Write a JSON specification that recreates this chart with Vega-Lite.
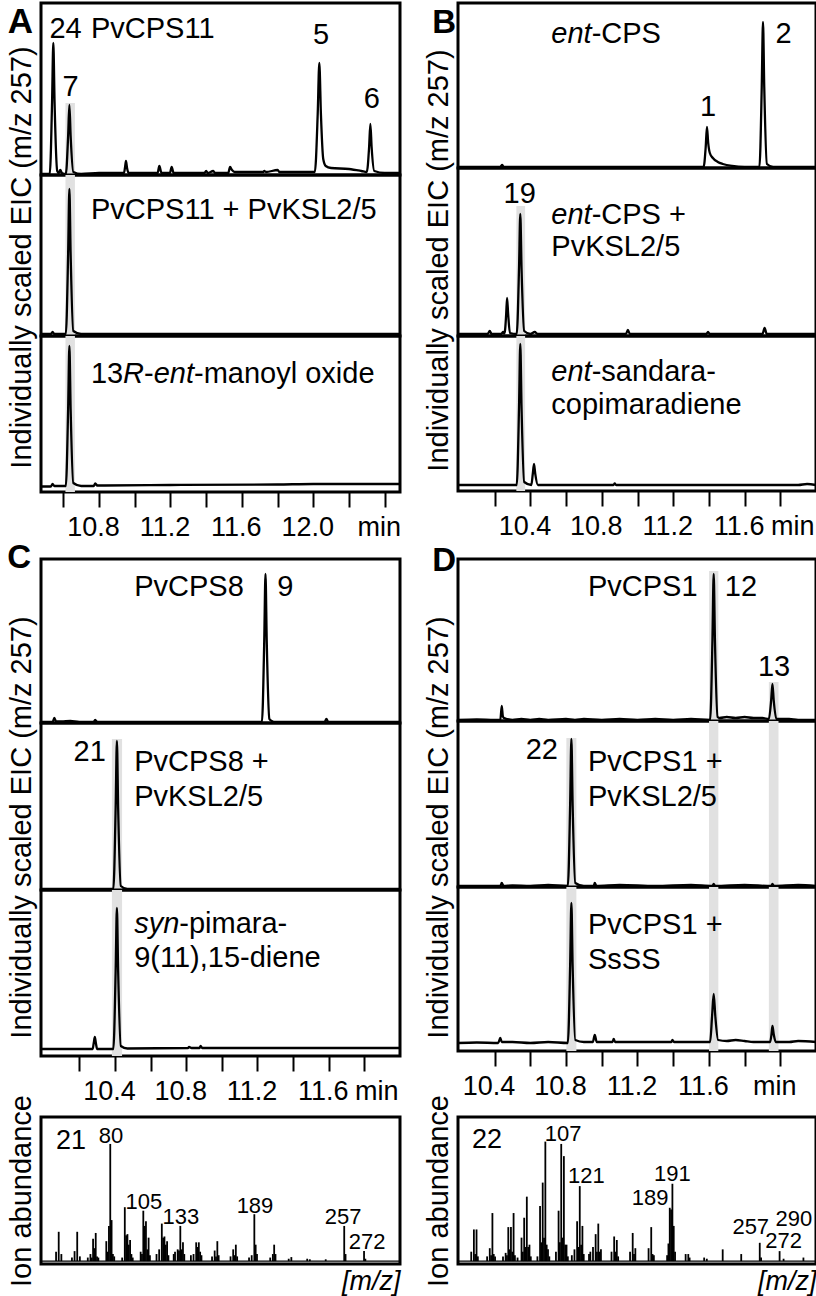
{
"$schema": "https://vega.github.io/schema/vega-lite/v6.json",
"background": "white",
"padding": {"left": 5, "top": 1, "right": 0, "bottom": 0},
"config": {
  "font": "Liberation Sans",
  "view": {"stroke": "black", "strokeWidth": 3},
  "axis": {"labelColor": "black", "titleColor": "black", "titleFontWeight": "normal", "grid": false},
  "title": {"color": "black"},
  "line": {"strokeWidth": 2.3}
},
"datasets": {
"A1": [{"t":10.475,"h":0},{"t":10.52,"h":0},{"t":10.524,"h":0},{"t":10.537,"h":72},{"t":10.544,"h":131},{"t":10.551,"h":72},{"t":10.566,"h":3},{"t":10.575,"h":1},{"t":10.583,"h":4},{"t":10.592,"h":1},{"t":10.614,"h":0},{"t":10.627,"h":38},{"t":10.634,"h":69},{"t":10.641,"h":38},{"t":10.656,"h":2},{"t":10.70,"h":0},{"t":10.80,"h":1},{"t":10.90,"h":1},{"t":10.940,"h":1},{"t":10.946,"h":7},{"t":10.951,"h":13},{"t":10.957,"h":6},{"t":10.966,"h":1},{"t":11.05,"h":1},{"t":11.128,"h":1},{"t":11.138,"h":8},{"t":11.150,"h":1},{"t":11.197,"h":1},{"t":11.207,"h":7},{"t":11.218,"h":1},{"t":11.30,"h":1},{"t":11.39,"h":1},{"t":11.40,"h":3},{"t":11.41,"h":1},{"t":11.44,"h":3},{"t":11.45,"h":1},{"t":11.524,"h":1},{"t":11.534,"h":7},{"t":11.545,"h":4},{"t":11.56,"h":2},{"t":11.65,"h":2},{"t":11.72,"h":2},{"t":11.726,"h":3},{"t":11.735,"h":2},{"t":11.801,"h":4},{"t":11.81,"h":2},{"t":11.90,"h":2},{"t":12.00,"h":2},{"t":12.009,"h":2},{"t":12.025,"h":60},{"t":12.034,"h":111},{"t":12.043,"h":60},{"t":12.056,"h":15},{"t":12.07,"h":8},{"t":12.10,"h":6},{"t":12.20,"h":5},{"t":12.27,"h":3},{"t":12.300,"h":2},{"t":12.313,"h":27},{"t":12.320,"h":50},{"t":12.327,"h":27},{"t":12.342,"h":3},{"t":12.40,"h":1},{"t":12.486,"h":1}],
"A2": [{"t":10.475,"h":0},{"t":10.53,"h":0},{"t":10.540,"h":2},{"t":10.55,"h":0},{"t":10.614,"h":0},{"t":10.627,"h":80},{"t":10.634,"h":145},{"t":10.641,"h":80},{"t":10.656,"h":3},{"t":10.70,"h":0},{"t":12.486,"h":0}],
"A3": [{"t":10.475,"h":-0.5},{"t":10.53,"h":-0.5},{"t":10.540,"h":2},{"t":10.55,"h":0},{"t":10.614,"h":0},{"t":10.627,"h":77},{"t":10.634,"h":140},{"t":10.641,"h":77},{"t":10.656,"h":3},{"t":10.70,"h":0},{"t":10.77,"h":0},{"t":10.779,"h":2.5},{"t":10.79,"h":0.5},{"t":11.2,"h":1},{"t":11.8,"h":1.5},{"t":12.0,"h":2},{"t":12.486,"h":2}],
"B1": [{"t":9.994,"h":0},{"t":10.23,"h":0},{"t":10.242,"h":2},{"t":10.25,"h":0},{"t":11.0,"h":0},{"t":11.30,"h":0},{"t":11.370,"h":0},{"t":11.382,"h":20},{"t":11.389,"h":40},{"t":11.396,"h":24},{"t":11.405,"h":14},{"t":11.422,"h":9},{"t":11.45,"h":5},{"t":11.478,"h":3},{"t":11.53,"h":1},{"t":11.60,"h":0},{"t":11.683,"h":0},{"t":11.696,"h":80},{"t":11.703,"h":145},{"t":11.710,"h":80},{"t":11.725,"h":3},{"t":11.76,"h":0},{"t":12.0,"h":0}],
"B2": [{"t":9.994,"h":0},{"t":10.16,"h":0},{"t":10.172,"h":3},{"t":10.182,"h":0},{"t":10.236,"h":0},{"t":10.246,"h":2},{"t":10.252,"h":0.5},{"t":10.257,"h":3},{"t":10.264,"h":20},{"t":10.269,"h":36},{"t":10.275,"h":20},{"t":10.285,"h":1},{"t":10.323,"h":0},{"t":10.336,"h":66},{"t":10.343,"h":120},{"t":10.350,"h":66},{"t":10.365,"h":3},{"t":10.40,"h":0},{"t":10.424,"h":2},{"t":10.44,"h":0},{"t":10.935,"h":0},{"t":10.946,"h":4},{"t":10.957,"h":0},{"t":11.385,"h":0},{"t":11.395,"h":2},{"t":11.405,"h":0},{"t":11.700,"h":0},{"t":11.712,"h":6},{"t":11.724,"h":0},{"t":12.0,"h":0}],
"B3": [{"t":9.994,"h":0},{"t":10.323,"h":0},{"t":10.336,"h":78},{"t":10.343,"h":141},{"t":10.350,"h":78},{"t":10.365,"h":3},{"t":10.405,"h":0},{"t":10.413,"h":11},{"t":10.420,"h":21},{"t":10.427,"h":11},{"t":10.442,"h":0},{"t":10.865,"h":0},{"t":10.872,"h":1.5},{"t":10.88,"h":0},{"t":11.9,"h":0},{"t":11.95,"h":1},{"t":12.0,"h":0}],
"C1": [{"t":9.985,"h":0},{"t":10.05,"h":0},{"t":10.060,"h":4},{"t":10.07,"h":0.5},{"t":10.10,"h":0.5},{"t":10.15,"h":1},{"t":10.20,"h":0},{"t":10.280,"h":0},{"t":10.289,"h":2},{"t":10.30,"h":0},{"t":11.225,"h":0},{"t":11.238,"h":81},{"t":11.245,"h":148},{"t":11.252,"h":81},{"t":11.267,"h":3},{"t":11.28,"h":1},{"t":11.30,"h":0},{"t":11.577,"h":0},{"t":11.587,"h":3},{"t":11.597,"h":0},{"t":12.0,"h":0}],
"C2": [{"t":9.985,"h":0},{"t":10.391,"h":0},{"t":10.404,"h":81},{"t":10.411,"h":148},{"t":10.418,"h":81},{"t":10.433,"h":3},{"t":10.47,"h":0},{"t":12.0,"h":0}],
"C3": [{"t":9.985,"h":0},{"t":10.275,"h":0},{"t":10.281,"h":6},{"t":10.287,"h":12},{"t":10.293,"h":6},{"t":10.30,"h":0},{"t":10.391,"h":0},{"t":10.404,"h":78},{"t":10.411,"h":141},{"t":10.418,"h":78},{"t":10.433,"h":3},{"t":10.47,"h":0.5},{"t":10.81,"h":1},{"t":10.816,"h":2},{"t":10.83,"h":1},{"t":10.875,"h":1},{"t":10.881,"h":3},{"t":10.89,"h":1},{"t":11.5,"h":1},{"t":12.0,"h":1}],
"D1": [{"t":10.195,"h":0},{"t":10.30,"h":0.5},{"t":10.40,"h":0},{"t":10.432,"h":0},{"t":10.440,"h":14},{"t":10.446,"h":4},{"t":10.452,"h":2},{"t":10.47,"h":1},{"t":10.50,"h":0},{"t":10.55,"h":1},{"t":10.60,"h":0},{"t":10.65,"h":1},{"t":10.70,"h":0},{"t":10.80,"h":1},{"t":10.85,"h":0},{"t":10.90,"h":1},{"t":11.0,"h":0},{"t":11.1,"h":1},{"t":11.2,"h":0},{"t":11.3,"h":1},{"t":11.4,"h":0},{"t":11.5,"h":1},{"t":11.607,"h":0},{"t":11.620,"h":80},{"t":11.627,"h":146},{"t":11.634,"h":80},{"t":11.649,"h":3},{"t":11.66,"h":2},{"t":11.70,"h":3},{"t":11.75,"h":2},{"t":11.80,"h":3},{"t":11.85,"h":2},{"t":11.90,"h":2},{"t":11.936,"h":1},{"t":11.949,"h":20},{"t":11.956,"h":36},{"t":11.963,"h":20},{"t":11.978,"h":1},{"t":12.05,"h":1},{"t":12.10,"h":0},{"t":12.2,"h":0}],
"D2": [{"t":10.195,"h":0},{"t":10.432,"h":0},{"t":10.440,"h":3},{"t":10.45,"h":0},{"t":10.5,"h":0.5},{"t":10.6,"h":0},{"t":10.7,"h":1},{"t":10.810,"h":0},{"t":10.823,"h":81},{"t":10.830,"h":147},{"t":10.837,"h":81},{"t":10.852,"h":3},{"t":10.90,"h":0},{"t":10.955,"h":0},{"t":10.961,"h":3},{"t":10.97,"h":0},{"t":11.1,"h":1},{"t":11.3,"h":0},{"t":11.5,"h":1},{"t":11.62,"h":0},{"t":11.627,"h":2},{"t":11.635,"h":0},{"t":11.8,"h":1},{"t":11.95,"h":0},{"t":11.956,"h":2},{"t":11.965,"h":0},{"t":12.1,"h":1},{"t":12.2,"h":0}],
"D3": [{"t":10.195,"h":0},{"t":10.30,"h":0.5},{"t":10.42,"h":0},{"t":10.432,"h":5},{"t":10.44,"h":1},{"t":10.5,"h":1},{"t":10.6,"h":0},{"t":10.7,"h":1},{"t":10.810,"h":0},{"t":10.823,"h":77},{"t":10.830,"h":140},{"t":10.837,"h":77},{"t":10.852,"h":3},{"t":10.90,"h":1},{"t":10.950,"h":1},{"t":10.961,"h":8},{"t":10.972,"h":1},{"t":11.06,"h":1},{"t":11.067,"h":4},{"t":11.075,"h":1},{"t":11.2,"h":1},{"t":11.39,"h":1},{"t":11.396,"h":3},{"t":11.405,"h":1},{"t":11.5,"h":1},{"t":11.607,"h":1},{"t":11.618,"h":27},{"t":11.627,"h":49},{"t":11.636,"h":27},{"t":11.652,"h":3},{"t":11.70,"h":2},{"t":11.75,"h":3},{"t":11.80,"h":2},{"t":11.85,"h":1},{"t":11.943,"h":1},{"t":11.951,"h":9},{"t":11.956,"h":17},{"t":11.963,"h":9},{"t":11.975,"h":1},{"t":12.05,"h":1},{"t":12.1,"h":2},{"t":12.2,"h":1}],
"bands": [
{"c":"A1","t":10.612,"t2":10.665,"h":-1,"h2":71},
{"c":"A2","t":10.612,"t2":10.665,"h":-2,"h2":159},
{"c":"A3","t":10.612,"t2":10.665,"h":-6,"h2":150},
{"c":"B2","t":10.321,"t2":10.370,"h":-2,"h2":128},
{"c":"B3","t":10.321,"t2":10.370,"h":-6,"h2":149},
{"c":"C2","t":10.383,"t2":10.440,"h":-1,"h2":150},
{"c":"C3","t":10.383,"t2":10.440,"h":-7,"h2":159},
{"c":"D1","t":11.601,"t2":11.653,"h":-1,"h2":149},
{"c":"D1","t":11.936,"t2":11.990,"h":-1,"h2":38},
{"c":"D2","t":11.601,"t2":11.653,"h":-1,"h2":165},
{"c":"D2","t":11.936,"t2":11.990,"h":-1,"h2":165},
{"c":"D2","t":10.802,"t2":10.858,"h":-1,"h2":148},
{"c":"D3","t":11.601,"t2":11.653,"h":-8,"h2":156},
{"c":"D3","t":11.936,"t2":11.990,"h":-8,"h2":156},
{"c":"D3","t":10.802,"t2":10.858,"h":-8,"h2":156}
],
"letters": [
{"c":"A1","t":10.430,"h":141,"s":"A","fs":35},
{"c":"B1","t":9.983,"h":134,"s":"B","fs":33},
{"c":"C1","t":9.929,"h":154,"s":"C","fs":33},
{"c":"D1","t":10.184,"h":149,"s":"D","fs":33}
],
"labels": [
{"c":"A1","t":10.522,"h":136,"s":"24","al":"left","st":"normal"},
{"c":"A1","t":10.755,"h":136,"s":"PvCPS11","al":"left","st":"normal"},
{"c":"A1","t":10.640,"h":78,"s":"7","al":"center","st":"normal"},
{"c":"A1","t":12.044,"h":130,"s":"5","al":"center","st":"normal"},
{"c":"A1","t":12.328,"h":66,"s":"6","al":"center","st":"normal"},
{"c":"A2","t":10.755,"h":115,"s":"PvCPS11 + PvKSL2/5","al":"left","st":"normal"},
{"c":"A3","t":10.755,"h":103,"s":"13","al":"left","st":"normal"},
{"c":"A3","t":10.935,"h":103,"s":"R","al":"left","st":"italic"},
{"c":"A3","t":11.052,"h":103,"s":"-","al":"left","st":"normal"},
{"c":"A3","t":11.106,"h":103,"s":"ent","al":"left","st":"italic"},
{"c":"A3","t":11.332,"h":103,"s":"-manoyl oxide","al":"left","st":"normal"},
{"c":"B1","t":10.517,"h":124,"s":"ent","al":"left","st":"italic"},
{"c":"B1","t":10.743,"h":124,"s":"-CPS","al":"left","st":"normal"},
{"c":"B1","t":11.395,"h":51,"s":"1","al":"center","st":"normal"},
{"c":"B1","t":11.818,"h":124,"s":"2","al":"center","st":"normal"},
{"c":"B2","t":10.340,"h":131,"s":"19","al":"center","st":"normal"},
{"c":"B2","t":10.517,"h":110,"s":"ent","al":"left","st":"italic"},
{"c":"B2","t":10.743,"h":110,"s":"-CPS +","al":"left","st":"normal"},
{"c":"B2","t":10.517,"h":78,"s":"PvKSL2/5","al":"left","st":"normal"},
{"c":"B3","t":10.517,"h":104,"s":"ent","al":"left","st":"italic"},
{"c":"B3","t":10.743,"h":104,"s":"-sandara-","al":"left","st":"normal"},
{"c":"B3","t":10.517,"h":71,"s":"copimaradiene","al":"left","st":"normal"},
{"c":"C1","t":10.508,"h":126,"s":"PvCPS8","al":"left","st":"normal"},
{"c":"C1","t":11.311,"h":126,"s":"9","al":"left","st":"normal"},
{"c":"C2","t":10.349,"h":128,"s":"21","al":"right","st":"normal"},
{"c":"C2","t":10.508,"h":118,"s":"PvCPS8 +","al":"left","st":"normal"},
{"c":"C2","t":10.508,"h":83,"s":"PvKSL2/5","al":"left","st":"normal"},
{"c":"C3","t":10.508,"h":116,"s":"syn","al":"left","st":"italic"},
{"c":"C3","t":10.761,"h":116,"s":"-pimara-","al":"left","st":"normal"},
{"c":"C3","t":10.508,"h":82,"s":"9(11),15-diene","al":"left","st":"normal"},
{"c":"D1","t":10.923,"h":124,"s":"PvCPS1","al":"left","st":"normal"},
{"c":"D1","t":11.689,"h":124,"s":"12","al":"left","st":"normal"},
{"c":"D1","t":11.965,"h":44,"s":"13","al":"center","st":"normal"},
{"c":"D2","t":10.755,"h":127,"s":"22","al":"right","st":"normal"},
{"c":"D2","t":10.923,"h":115,"s":"PvCPS1 +","al":"left","st":"normal"},
{"c":"D2","t":10.923,"h":80,"s":"PvKSL2/5","al":"left","st":"normal"},
{"c":"D3","t":10.923,"h":109,"s":"PvCPS1 +","al":"left","st":"normal"},
{"c":"D3","t":10.923,"h":74,"s":"SsSS","al":"left","st":"normal"}
],
"S21": [{"mz":39,"h":8},{"mz":41,"h":25},{"mz":43,"h":6},{"mz":51,"h":3},{"mz":53,"h":8.5},{"mz":55,"h":25},{"mz":57,"h":4},{"mz":63,"h":3},{"mz":65,"h":6},{"mz":66,"h":3},{"mz":67,"h":19},{"mz":68,"h":11},{"mz":69,"h":24},{"mz":70,"h":4},{"mz":71,"h":3},{"mz":77,"h":17},{"mz":78,"h":8},{"mz":79,"h":30},{"mz":80,"h":100},{"mz":81,"h":35},{"mz":82,"h":6},{"mz":83,"h":4},{"mz":89,"h":3},{"mz":91,"h":46},{"mz":92,"h":22},{"mz":93,"h":23},{"mz":94,"h":14},{"mz":95,"h":18},{"mz":96,"h":6},{"mz":97,"h":3},{"mz":103,"h":8},{"mz":104,"h":6},{"mz":105,"h":43},{"mz":106,"h":30},{"mz":107,"h":34},{"mz":108,"h":10},{"mz":109,"h":20},{"mz":110,"h":5},{"mz":115,"h":6},{"mz":117,"h":10},{"mz":119,"h":32},{"mz":120,"h":20},{"mz":121,"h":21},{"mz":122,"h":14},{"mz":123,"h":17},{"mz":124,"h":5},{"mz":128,"h":6},{"mz":129,"h":8},{"mz":131,"h":10},{"mz":132,"h":9},{"mz":133,"h":30},{"mz":134,"h":10},{"mz":135,"h":16},{"mz":136,"h":6},{"mz":141,"h":5},{"mz":143,"h":6},{"mz":145,"h":16},{"mz":146,"h":12},{"mz":147,"h":16},{"mz":148,"h":8},{"mz":149,"h":5},{"mz":157,"h":4},{"mz":159,"h":9},{"mz":160,"h":4},{"mz":161,"h":17},{"mz":162,"h":5},{"mz":171,"h":4},{"mz":173,"h":10},{"mz":174,"h":5},{"mz":175,"h":14},{"mz":176,"h":4},{"mz":185,"h":3},{"mz":187,"h":5},{"mz":189,"h":40},{"mz":190,"h":14},{"mz":191,"h":6},{"mz":201,"h":3},{"mz":203,"h":6},{"mz":204,"h":14},{"mz":205,"h":6},{"mz":215,"h":2},{"mz":217,"h":3.4},{"mz":229,"h":2},{"mz":231,"h":1.5},{"mz":243,"h":1.5},{"mz":257,"h":30},{"mz":258,"h":6},{"mz":272,"h":8.5},{"mz":273,"h":2}],
"S22": [{"mz":39,"h":8},{"mz":41,"h":27},{"mz":42,"h":6},{"mz":43,"h":27},{"mz":44,"h":4},{"mz":51,"h":4},{"mz":53,"h":11},{"mz":54,"h":5},{"mz":55,"h":41},{"mz":56,"h":6},{"mz":57,"h":4},{"mz":63,"h":4},{"mz":65,"h":7},{"mz":66,"h":5},{"mz":67,"h":29},{"mz":68,"h":10},{"mz":69,"h":29},{"mz":70,"h":8},{"mz":71,"h":41},{"mz":72,"h":5},{"mz":74,"h":3},{"mz":77,"h":20},{"mz":78,"h":8},{"mz":79,"h":37},{"mz":80,"h":12},{"mz":81,"h":55},{"mz":82,"h":12},{"mz":83,"h":14},{"mz":84,"h":4},{"mz":89,"h":4},{"mz":91,"h":47},{"mz":92,"h":16},{"mz":93,"h":67},{"mz":94,"h":20},{"mz":95,"h":102},{"mz":96,"h":14},{"mz":97,"h":10},{"mz":98,"h":4},{"mz":103,"h":8},{"mz":105,"h":43},{"mz":106,"h":16},{"mz":107,"h":100},{"mz":108,"h":20},{"mz":109,"h":89.6},{"mz":110,"h":14},{"mz":111,"h":14},{"mz":112,"h":4},{"mz":115,"h":5},{"mz":117,"h":10},{"mz":119,"h":34},{"mz":120,"h":12},{"mz":121,"h":64},{"mz":122,"h":14},{"mz":123,"h":30},{"mz":124,"h":6},{"mz":128,"h":6},{"mz":129,"h":8},{"mz":131,"h":12},{"mz":133,"h":23},{"mz":134,"h":8},{"mz":135,"h":32},{"mz":136,"h":8},{"mz":137,"h":10},{"mz":145,"h":8},{"mz":147,"h":21},{"mz":148,"h":8},{"mz":149,"h":18},{"mz":150,"h":4},{"mz":159,"h":8},{"mz":161,"h":24},{"mz":162,"h":6},{"mz":163,"h":11},{"mz":173,"h":11},{"mz":175,"h":29},{"mz":176,"h":6},{"mz":177,"h":5},{"mz":187,"h":5},{"mz":188,"h":15},{"mz":189,"h":45.5},{"mz":190,"h":44},{"mz":191,"h":66},{"mz":192,"h":30},{"mz":193,"h":8},{"mz":201,"h":6},{"mz":203,"h":6},{"mz":204,"h":3},{"mz":215,"h":3},{"mz":217,"h":2},{"mz":229,"h":10},{"mz":243,"h":6},{"mz":257,"h":15.6},{"mz":258,"h":3},{"mz":272,"h":8.5},{"mz":275,"h":2},{"mz":290,"h":3}],
"S21lab": [{"mz":50.3,"h":95.6,"s":"21","fs":27,"al":"center"},{"mz":80.6,"h":101,"s":"80","fs":22,"al":"center"},{"mz":105.5,"h":44.4,"s":"105","fs":22,"al":"center"},{"mz":133.5,"h":31.6,"s":"133","fs":22,"al":"center"},{"mz":189.5,"h":41,"s":"189","fs":22,"al":"center"},{"mz":256.1,"h":31.6,"s":"257","fs":22,"al":"center"},{"mz":274.3,"h":10.2,"s":"272","fs":22,"al":"center"}],
"S22lab": [{"mz":51,"h":96.4,"s":"22","fs":27,"al":"center"},{"mz":108.4,"h":102.4,"s":"107","fs":22,"al":"center"},{"mz":126,"h":66.8,"s":"121","fs":22,"al":"center"},{"mz":191,"h":68.3,"s":"191","fs":22,"al":"center"},{"mz":188,"h":47.8,"s":"189","fs":22,"al":"right"},{"mz":250.2,"h":23,"s":"257","fs":22,"al":"center"},{"mz":282.7,"h":29.9,"s":"290","fs":22,"al":"center"},{"mz":275.1,"h":11.3,"s":"272","fs":22,"al":"center"}]
},
"spacing": 15,
"resolve": {"scale": {"x": "independent", "y": "independent"}},
"hconcat": [
{
 "vconcat": [
  {"width": 359, "height": 172,
   "encoding": {"x": {"field": "t", "type": "quantitative", "scale": {"domain": [10.475, 12.486], "nice": false, "zero": false}, "axis": null},
                "y": {"field": "h", "type": "quantitative", "scale": {"domain": [-1, 171], "nice": false, "zero": false}, "axis": null}},
   "layer": [
    {"data": {"name": "bands"}, "transform": [{"filter": "datum.c == 'A1'"}], "mark": {"type": "rect", "color": "#e1e1e1"}, "encoding": {"x2": {"field": "t2"}, "y2": {"field": "h2"}}},
    {"data": {"name": "A1"}, "mark": {"type": "line", "color": "black", "interpolate": "monotone"}, "encoding": {}},
    {"data": {"name": "labels"}, "transform": [{"filter": "datum.c == 'A1'"}], "mark": {"type": "text", "fontSize": 29, "baseline": "alphabetic", "color": "black", "align": {"expr": "datum.al"}, "fontStyle": {"expr": "datum.st"}}, "encoding": {"text": {"field": "s"}}},
    {"data": {"name": "letters"}, "transform": [{"filter": "datum.c == 'A1'"}], "mark": {"type": "text", "fontWeight": "bold", "align": "right", "baseline": "alphabetic", "color": "black"}, "encoding": {"text": {"field": "s"}, "size": {"field": "fs", "type": "quantitative", "scale": null}}}
   ]},
  {"width": 359, "height": 161,
   "encoding": {"x": {"field": "t", "type": "quantitative", "scale": {"domain": [10.475, 12.486], "nice": false, "zero": false}, "axis": null},
                "y": {"field": "h", "type": "quantitative", "scale": {"domain": [-2, 159], "nice": false, "zero": false}, "axis": {"title": "Individually scaled EIC (m/z 257)", "titleFontSize": 29, "titlePadding": 5, "titleY": 82, "labels": false, "ticks": false, "domain": false}}},
   "layer": [
    {"data": {"name": "bands"}, "transform": [{"filter": "datum.c == 'A2'"}], "mark": {"type": "rect", "color": "#e1e1e1"}, "encoding": {"x2": {"field": "t2"}, "y2": {"field": "h2"}}},
    {"data": {"name": "A2"}, "mark": {"type": "line", "color": "black", "interpolate": "monotone"}, "encoding": {}},
    {"data": {"name": "labels"}, "transform": [{"filter": "datum.c == 'A2'"}], "mark": {"type": "text", "fontSize": 29, "baseline": "alphabetic", "color": "black", "align": {"expr": "datum.al"}, "fontStyle": {"expr": "datum.st"}}, "encoding": {"text": {"field": "s"}}}
   ]},
  {"width": 359, "height": 156,
   "encoding": {"x": {"field": "t", "type": "quantitative", "scale": {"domain": [10.475, 12.486], "nice": false, "zero": false},
                       "axis": {"values": [10.6,10.8,11.0,11.2,11.4,11.6,11.8,12.0,12.2,12.4], "tickSize": 15, "tickWidth": 2, "tickColor": "black", "domain": false, "labelFontSize": 27, "labelPadding": 7, "labelOffset": -6, "labelFlush": false, "labelOverlap": false, "labelBound": false, "title": null,
                                "labelExpr": "indexof(['10.8','11.2','11.6','12.0'], format(datum.value, '.1f')) >= 0 ? format(datum.value, '.1f') : (format(datum.value, '.1f') == '12.4' ? 'min' : '')"}},
                "y": {"field": "h", "type": "quantitative", "scale": {"domain": [-6, 150], "nice": false, "zero": false}, "axis": null}},
   "layer": [
    {"data": {"name": "bands"}, "transform": [{"filter": "datum.c == 'A3'"}], "mark": {"type": "rect", "color": "#e1e1e1"}, "encoding": {"x2": {"field": "t2"}, "y2": {"field": "h2"}}},
    {"data": {"name": "A3"}, "mark": {"type": "line", "color": "black", "interpolate": "monotone"}, "encoding": {}},
    {"data": {"name": "labels"}, "transform": [{"filter": "datum.c == 'A3'"}], "mark": {"type": "text", "fontSize": 29, "baseline": "alphabetic", "color": "black", "align": {"expr": "datum.al"}, "fontStyle": {"expr": "datum.st"}}, "encoding": {"text": {"field": "s"}}}
   ]},
  {"width": 359, "height": 67, "view": {"stroke": null}, "data": {"values": []}, "mark": "point"},
  {"width": 359, "height": 164,
   "encoding": {"x": {"field": "t", "type": "quantitative", "scale": {"domain": [9.985, 12.0], "nice": false, "zero": false}, "axis": null},
                "y": {"field": "h", "type": "quantitative", "scale": {"domain": [-1, 163], "nice": false, "zero": false}, "axis": null}},
   "layer": [
    {"data": {"name": "C1"}, "mark": {"type": "line", "color": "black", "interpolate": "monotone"}, "encoding": {}},
    {"data": {"name": "labels"}, "transform": [{"filter": "datum.c == 'C1'"}], "mark": {"type": "text", "fontSize": 29, "baseline": "alphabetic", "color": "black", "align": {"expr": "datum.al"}, "fontStyle": {"expr": "datum.st"}}, "encoding": {"text": {"field": "s"}}},
    {"data": {"name": "letters"}, "transform": [{"filter": "datum.c == 'C1'"}], "mark": {"type": "text", "fontWeight": "bold", "align": "right", "baseline": "alphabetic", "color": "black"}, "encoding": {"text": {"field": "s"}, "size": {"field": "fs", "type": "quantitative", "scale": null}}}
   ]},
  {"width": 359, "height": 167,
   "encoding": {"x": {"field": "t", "type": "quantitative", "scale": {"domain": [9.985, 12.0], "nice": false, "zero": false}, "axis": null},
                "y": {"field": "h", "type": "quantitative", "scale": {"domain": [-1, 166], "nice": false, "zero": false}, "axis": {"title": "Individually scaled EIC (m/z 257)", "titleFontSize": 29, "titlePadding": 5, "titleY": 104, "labels": false, "ticks": false, "domain": false}}},
   "layer": [
    {"data": {"name": "bands"}, "transform": [{"filter": "datum.c == 'C2'"}], "mark": {"type": "rect", "color": "#e1e1e1"}, "encoding": {"x2": {"field": "t2"}, "y2": {"field": "h2"}}},
    {"data": {"name": "C2"}, "mark": {"type": "line", "color": "black", "interpolate": "monotone"}, "encoding": {}},
    {"data": {"name": "labels"}, "transform": [{"filter": "datum.c == 'C2'"}], "mark": {"type": "text", "fontSize": 29, "baseline": "alphabetic", "color": "black", "align": {"expr": "datum.al"}, "fontStyle": {"expr": "datum.st"}}, "encoding": {"text": {"field": "s"}}}
   ]},
  {"width": 359, "height": 166,
   "encoding": {"x": {"field": "t", "type": "quantitative", "scale": {"domain": [9.985, 12.0], "nice": false, "zero": false},
                       "axis": {"values": [10.2,10.4,10.6,10.8,11.0,11.2,11.4,11.6,11.8,11.9], "tickSize": 15, "tickWidth": 2, "tickColor": "black", "tickOpacity": {"condition": {"test": "abs(datum.value - 11.9) < 0.01", "value": 0}, "value": 1}, "domain": false, "labelFontSize": 27, "labelPadding": 7, "labelOffset": -6, "labelFlush": false, "labelOverlap": false, "labelBound": false, "title": null,
                                "labelExpr": "indexof(['10.4','10.8','11.2','11.6'], format(datum.value, '.1f')) >= 0 ? format(datum.value, '.1f') : (format(datum.value, '.1f') == '11.9' ? 'min' : '')"}},
                "y": {"field": "h", "type": "quantitative", "scale": {"domain": [-7, 159], "nice": false, "zero": false}, "axis": null}},
   "layer": [
    {"data": {"name": "bands"}, "transform": [{"filter": "datum.c == 'C3'"}], "mark": {"type": "rect", "color": "#e1e1e1"}, "encoding": {"x2": {"field": "t2"}, "y2": {"field": "h2"}}},
    {"data": {"name": "C3"}, "mark": {"type": "line", "color": "black", "interpolate": "monotone"}, "encoding": {}},
    {"data": {"name": "labels"}, "transform": [{"filter": "datum.c == 'C3'"}], "mark": {"type": "text", "fontSize": 29, "baseline": "alphabetic", "color": "black", "align": {"expr": "datum.al"}, "fontStyle": {"expr": "datum.st"}}, "encoding": {"text": {"field": "s"}}}
   ]},
  {"width": 359, "height": 61, "view": {"stroke": null}, "data": {"values": []}, "mark": "point"},
  {"width": 359, "height": 147,
   "layer": [
    {"data": {"values": [{"h": 0}]}, "mark": {"type": "rule", "color": "black", "strokeWidth": 1.2},
     "encoding": {"y": {"field": "h", "type": "quantitative", "scale": {"domain": [-2.5, 123], "nice": false, "zero": false}, "axis": {"title": "Ion abundance", "titleFontSize": 29, "titlePadding": 5, "labels": false, "ticks": false, "domain": false}}}},
    {"data": {"name": "S21"}, "mark": {"type": "rule", "color": "black", "strokeWidth": 1.8},
     "encoding": {"x": {"field": "mz", "type": "quantitative", "scale": {"domain": [27.6, 299.2], "nice": false, "zero": false}, "axis": {"title": "[m/z]", "titleAnchor": "end", "titleFontStyle": "italic", "titleFontSize": 27, "titlePadding": 4, "labels": false, "ticks": false, "domain": false}},
                  "y": {"field": "h", "type": "quantitative", "scale": {"domain": [-2.5, 123], "nice": false, "zero": false}}, "y2": {"datum": 0}}},
    {"data": {"name": "S21lab"}, "mark": {"type": "text", "baseline": "alphabetic", "color": "black", "align": {"expr": "datum.al"}},
     "encoding": {"x": {"field": "mz", "type": "quantitative", "scale": {"domain": [27.6, 299.2], "nice": false, "zero": false}},
                  "y": {"field": "h", "type": "quantitative", "scale": {"domain": [-2.5, 123], "nice": false, "zero": false}},
                  "text": {"field": "s"}, "size": {"field": "fs", "type": "quantitative", "scale": null}}}
   ]}
 ],
 "spacing": 0,
 "bounds": "flush",
 "resolve": {"scale": {"x": "independent", "y": "independent"}}
},
{
 "vconcat": [
  {"width": 358, "height": 165,
   "encoding": {"x": {"field": "t", "type": "quantitative", "scale": {"domain": [9.994, 12.0], "nice": false, "zero": false}, "axis": null},
                "y": {"field": "h", "type": "quantitative", "scale": {"domain": [-1, 164], "nice": false, "zero": false}, "axis": null}},
   "layer": [
    {"data": {"name": "B1"}, "mark": {"type": "line", "color": "black", "interpolate": "monotone"}, "encoding": {}},
    {"data": {"name": "labels"}, "transform": [{"filter": "datum.c == 'B1'"}], "mark": {"type": "text", "fontSize": 29, "baseline": "alphabetic", "color": "black", "align": {"expr": "datum.al"}, "fontStyle": {"expr": "datum.st"}}, "encoding": {"text": {"field": "s"}}},
    {"data": {"name": "letters"}, "transform": [{"filter": "datum.c == 'B1'"}], "mark": {"type": "text", "fontWeight": "bold", "align": "right", "baseline": "alphabetic", "color": "black"}, "encoding": {"text": {"field": "s"}, "size": {"field": "fs", "type": "quantitative", "scale": null}}}
   ]},
  {"width": 358, "height": 168,
   "encoding": {"x": {"field": "t", "type": "quantitative", "scale": {"domain": [9.994, 12.0], "nice": false, "zero": false}, "axis": null},
                "y": {"field": "h", "type": "quantitative", "scale": {"domain": [-2, 166], "nice": false, "zero": false}, "axis": {"title": "Individually scaled EIC (m/z 257)", "titleFontSize": 29, "titlePadding": 5, "titleY": 92, "labels": false, "ticks": false, "domain": false}}},
   "layer": [
    {"data": {"name": "bands"}, "transform": [{"filter": "datum.c == 'B2'"}], "mark": {"type": "rect", "color": "#e1e1e1"}, "encoding": {"x2": {"field": "t2"}, "y2": {"field": "h2"}}},
    {"data": {"name": "B2"}, "mark": {"type": "line", "color": "black", "interpolate": "monotone"}, "encoding": {}},
    {"data": {"name": "labels"}, "transform": [{"filter": "datum.c == 'B2'"}], "mark": {"type": "text", "fontSize": 29, "baseline": "alphabetic", "color": "black", "align": {"expr": "datum.al"}, "fontStyle": {"expr": "datum.st"}}, "encoding": {"text": {"field": "s"}}}
   ]},
  {"width": 358, "height": 155,
   "encoding": {"x": {"field": "t", "type": "quantitative", "scale": {"domain": [9.994, 12.0], "nice": false, "zero": false},
                       "axis": {"values": [10.2,10.4,10.6,10.8,11.0,11.2,11.4,11.6,11.8,11.9], "tickSize": 15, "tickWidth": 2, "tickColor": "black", "tickOpacity": {"condition": {"test": "abs(datum.value - 11.9) < 0.01", "value": 0}, "value": 1}, "domain": false, "labelFontSize": 27, "labelPadding": 7, "labelOffset": -6, "labelFlush": false, "labelOverlap": false, "labelBound": false, "title": null,
                                "labelExpr": "indexof(['10.4','10.8','11.2','11.6'], format(datum.value, '.1f')) >= 0 ? format(datum.value, '.1f') : (format(datum.value, '.1f') == '11.9' ? 'min' : '')"}},
                "y": {"field": "h", "type": "quantitative", "scale": {"domain": [-6, 149], "nice": false, "zero": false}, "axis": null}},
   "layer": [
    {"data": {"name": "bands"}, "transform": [{"filter": "datum.c == 'B3'"}], "mark": {"type": "rect", "color": "#e1e1e1"}, "encoding": {"x2": {"field": "t2"}, "y2": {"field": "h2"}}},
    {"data": {"name": "B3"}, "mark": {"type": "line", "color": "black", "interpolate": "monotone"}, "encoding": {}},
    {"data": {"name": "labels"}, "transform": [{"filter": "datum.c == 'B3'"}], "mark": {"type": "text", "fontSize": 29, "baseline": "alphabetic", "color": "black", "align": {"expr": "datum.al"}, "fontStyle": {"expr": "datum.st"}}, "encoding": {"text": {"field": "s"}}}
   ]},
  {"width": 358, "height": 68, "view": {"stroke": null}, "data": {"values": []}, "mark": "point"},
  {"width": 358, "height": 162,
   "encoding": {"x": {"field": "t", "type": "quantitative", "scale": {"domain": [10.195, 12.2], "nice": false, "zero": false}, "axis": null},
                "y": {"field": "h", "type": "quantitative", "scale": {"domain": [-1, 161], "nice": false, "zero": false}, "axis": null}},
   "layer": [
    {"data": {"name": "bands"}, "transform": [{"filter": "datum.c == 'D1'"}], "mark": {"type": "rect", "color": "#e1e1e1"}, "encoding": {"x2": {"field": "t2"}, "y2": {"field": "h2"}}},
    {"data": {"name": "D1"}, "mark": {"type": "line", "color": "black", "interpolate": "monotone"}, "encoding": {}},
    {"data": {"name": "labels"}, "transform": [{"filter": "datum.c == 'D1'"}], "mark": {"type": "text", "fontSize": 29, "baseline": "alphabetic", "color": "black", "align": {"expr": "datum.al"}, "fontStyle": {"expr": "datum.st"}}, "encoding": {"text": {"field": "s"}}},
    {"data": {"name": "letters"}, "transform": [{"filter": "datum.c == 'D1'"}], "mark": {"type": "text", "fontWeight": "bold", "align": "right", "baseline": "alphabetic", "color": "black"}, "encoding": {"text": {"field": "s"}, "size": {"field": "fs", "type": "quantitative", "scale": null}}}
   ]},
  {"width": 358, "height": 166,
   "encoding": {"x": {"field": "t", "type": "quantitative", "scale": {"domain": [10.195, 12.2], "nice": false, "zero": false}, "axis": null},
                "y": {"field": "h", "type": "quantitative", "scale": {"domain": [-1, 165], "nice": false, "zero": false}, "axis": {"title": "Individually scaled EIC (m/z 257)", "titleFontSize": 29, "titlePadding": 5, "titleY": 106, "labels": false, "ticks": false, "domain": false}}},
   "layer": [
    {"data": {"name": "bands"}, "transform": [{"filter": "datum.c == 'D2'"}], "mark": {"type": "rect", "color": "#e1e1e1"}, "encoding": {"x2": {"field": "t2"}, "y2": {"field": "h2"}}},
    {"data": {"name": "D2"}, "mark": {"type": "line", "color": "black", "interpolate": "monotone"}, "encoding": {}},
    {"data": {"name": "labels"}, "transform": [{"filter": "datum.c == 'D2'"}], "mark": {"type": "text", "fontSize": 29, "baseline": "alphabetic", "color": "black", "align": {"expr": "datum.al"}, "fontStyle": {"expr": "datum.st"}}, "encoding": {"text": {"field": "s"}}}
   ]},
  {"width": 358, "height": 164,
   "encoding": {"x": {"field": "t", "type": "quantitative", "scale": {"domain": [10.195, 12.2], "nice": false, "zero": false},
                       "axis": {"values": [10.4,10.6,10.8,11.0,11.2,11.4,11.6,11.8,12.0], "tickSize": 15, "tickWidth": 2, "tickColor": "black", "domain": false, "labelFontSize": 27, "labelPadding": 7, "labelOffset": -6, "labelFlush": false, "labelOverlap": false, "labelBound": false, "title": null,
                                "labelExpr": "indexof(['10.4','10.8','11.2','11.6'], format(datum.value, '.1f')) >= 0 ? format(datum.value, '.1f') : (format(datum.value, '.1f') == '12.0' ? 'min' : '')"}},
                "y": {"field": "h", "type": "quantitative", "scale": {"domain": [-8, 156], "nice": false, "zero": false}, "axis": null}},
   "layer": [
    {"data": {"name": "bands"}, "transform": [{"filter": "datum.c == 'D3'"}], "mark": {"type": "rect", "color": "#e1e1e1"}, "encoding": {"x2": {"field": "t2"}, "y2": {"field": "h2"}}},
    {"data": {"name": "D3"}, "mark": {"type": "line", "color": "black", "interpolate": "monotone"}, "encoding": {}},
    {"data": {"name": "labels"}, "transform": [{"filter": "datum.c == 'D3'"}], "mark": {"type": "text", "fontSize": 29, "baseline": "alphabetic", "color": "black", "align": {"expr": "datum.al"}, "fontStyle": {"expr": "datum.st"}}, "encoding": {"text": {"field": "s"}}}
   ]},
  {"width": 358, "height": 66, "view": {"stroke": null}, "data": {"values": []}, "mark": "point"},
  {"width": 358, "height": 147,
   "layer": [
    {"data": {"values": [{"h": 0}]}, "mark": {"type": "rule", "color": "black", "strokeWidth": 1.2},
     "encoding": {"y": {"field": "h", "type": "quantitative", "scale": {"domain": [-2.5, 123], "nice": false, "zero": false}, "axis": {"title": "Ion abundance", "titleFontSize": 29, "titlePadding": 5, "labels": false, "ticks": false, "domain": false}}}},
    {"data": {"name": "S22"}, "mark": {"type": "rule", "color": "black", "strokeWidth": 1.8},
     "encoding": {"x": {"field": "mz", "type": "quantitative", "scale": {"domain": [29, 299.5], "nice": false, "zero": false}, "axis": {"title": "[m/z]", "titleAnchor": "end", "titleFontStyle": "italic", "titleFontSize": 27, "titlePadding": 4, "labels": false, "ticks": false, "domain": false}},
                  "y": {"field": "h", "type": "quantitative", "scale": {"domain": [-2.5, 123], "nice": false, "zero": false}}, "y2": {"datum": 0}}},
    {"data": {"name": "S22lab"}, "mark": {"type": "text", "baseline": "alphabetic", "color": "black", "align": {"expr": "datum.al"}},
     "encoding": {"x": {"field": "mz", "type": "quantitative", "scale": {"domain": [29, 299.5], "nice": false, "zero": false}},
                  "y": {"field": "h", "type": "quantitative", "scale": {"domain": [-2.5, 123], "nice": false, "zero": false}},
                  "text": {"field": "s"}, "size": {"field": "fs", "type": "quantitative", "scale": null}}}
   ]}
 ],
 "spacing": 0,
 "bounds": "flush",
 "resolve": {"scale": {"x": "independent", "y": "independent"}}
}
]
}
